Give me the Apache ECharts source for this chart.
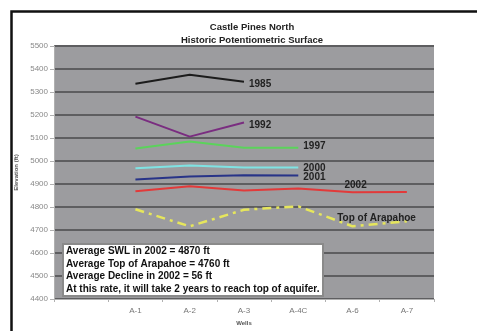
<!DOCTYPE html>
<html>
<head>
<meta charset="utf-8">
<script src="https://cdn.jsdelivr.net/npm/echarts@6/dist/echarts.min.js"></script>
<style>
  html, body { margin: 0; padding: 0; background: #fff; }
  #chart { width: 477px; height: 331px; }
</style>
</head>
<body>
<div id="chart"></div>
<script>
// Well names along the x axis (first slot left blank)
const wells = ['', 'A-1', 'A-2', 'A-3', 'A-4C', 'A-6', 'A-7'];

// Water levels (ft) per survey year
const y1985 = [null, 5336, 5375, 5345, null, null, null];
const y1992 = [null, 5193, 5106, 5167, null, null, null];
const y1997 = [null, 5054, 5085, 5058, 5058, null, null];
const y2000 = [null, 4968, 4980, 4972, 4972, null, null];
const y2001 = [null, 4920, 4933, 4938, 4937, null, null];
const y2002 = [null, 4868, 4890, 4872, 4880, 4864, 4865];
const arapahoeTop = [null, 4790, 4716, 4788, 4803, 4716, 4738];

const yTicks = { min: 4400, max: 5500, step: 100 };

const notes = [
  'Average SWL in 2002 = 4870 ft',
  'Average Top of Arapahoe = 4760 ft',
  'Average Decline in 2002 = 56 ft',
  'At this rate, it will take 2 years to reach top of aquifer.'
];

const labelFont = { fontFamily: 'Liberation Sans, Arial, sans-serif', fontWeight: 'bold', fontSize: 10, color: '#222' };

function yearSeries(name, data, color, dy) {
  return {
    name: name,
    type: 'line',
    data: data,
    symbol: 'none',
    lineStyle: { color: color, width: 2 },
    endLabel: Object.assign({ show: true, formatter: name, distance: 5, offset: [0, dy] }, labelFont),
    z: 3
  };
}

// Text tag placed above one point of a series
function pointTag(values, index, text, offset) {
  return {
    silent: true,
    symbol: 'circle', symbolSize: 1,
    itemStyle: { color: 'rgba(0,0,0,0)' },
    label: Object.assign({ show: true, position: 'top', formatter: text, offset: offset }, labelFont),
    data: [{ coord: [index, values[index]] }]
  };
}

const series = [
  yearSeries('1985', y1985, '#1c1c1c', 3),
  yearSeries('1992', y1992, '#7a2d80', 3),
  yearSeries('1997', y1997, '#5bd35b', -1),
  yearSeries('2000', y2000, '#7fe3e3', 1),
  yearSeries('2001', y2001, '#283488', 2),
  {
    name: '2002', type: 'line', z: 3, symbol: 'none',
    lineStyle: { color: '#e23a3a', width: 2 },
    data: y2002,
    markPoint: pointTag(y2002, 5, '2002', [3, 3])
  },
  {
    name: 'Top of Arapahoe', type: 'line', z: 3, symbol: 'none',
    lineStyle: { color: '#e6e65c', width: 2.5, type: [9, 5, 3, 5] },
    data: arapahoeTop,
    markPoint: pointTag(arapahoeTop, 5, 'Top of Arapahoe', [24, 2])
  }
];

const chart = echarts.init(document.getElementById('chart'), null, { renderer: 'canvas' });

chart.setOption({
  animation: false,
  backgroundColor: '#ffffff',
  title: {
    text: 'Castle Pines North\nHistoric Potentiometric Surface',
    left: 247, top: 16, textAlign: 'center',
    textStyle: { fontFamily: 'Liberation Sans, Arial, sans-serif', fontWeight: 'bold', fontSize: 9.5, lineHeight: 13, color: '#222' }
  },
  grid: { left: 54, top: 46, right: 43, bottom: 31, show: true, backgroundColor: '#9c9c9f', borderWidth: 0 },
  xAxis: {
    type: 'category', data: wells, boundaryGap: true,
    name: 'Wells', nameLocation: 'middle', nameGap: 21,
    nameTextStyle: { fontFamily: 'Liberation Sans, Arial, sans-serif', fontWeight: 'bold', fontSize: 6, color: '#555' },
    axisLine: { show: true, lineStyle: { color: '#b0b0b0', width: 1 } },
    axisTick: { show: true, length: 3, lineStyle: { color: '#b0b0b0' } },
    axisLabel: { fontFamily: 'Liberation Sans, Arial, sans-serif', fontSize: 8, color: '#777', margin: 8 },
    splitLine: { show: false }
  },
  yAxis: {
    type: 'value', min: yTicks.min, max: yTicks.max, interval: yTicks.step,
    name: 'Elevation (ft)', nameLocation: 'middle', nameGap: 33, nameRotate: 90,
    nameTextStyle: { fontFamily: 'Liberation Sans, Arial, sans-serif', fontWeight: 'bold', fontSize: 6, color: '#555' },
    axisLine: { show: true, lineStyle: { color: '#b0b0b0', width: 1 } },
    axisTick: { show: true, length: 4, lineStyle: { color: '#b0b0b0' } },
    axisLabel: { fontFamily: 'Liberation Sans, Arial, sans-serif', fontSize: 8, color: '#888', margin: 6, formatter: v => String(v) },
    splitLine: { show: true, lineStyle: { color: '#5e5e60', width: 2 } }
  },
  series: series,
  graphic: [
    {
      type: 'rect', left: 9, top: 9, z: 10, silent: true,
      shape: { width: 490, height: 340 },
      style: { fill: 'none', stroke: '#111', lineWidth: 2.5 }
    },
    {
      type: 'rect', left: 62, top: 243, z: 20,
      shape: { width: 260, height: 52 },
      style: { fill: '#ffffff', stroke: '#8a8a8a', lineWidth: 2 }
    },
    {
      type: 'text', left: 66, top: 245, z: 21,
      style: {
        text: notes.join('\n'),
        font: 'bold 10px "Liberation Sans", Arial, sans-serif',
        lineHeight: 12.5, fill: '#111'
      }
    }
  ]
});
</script>
</body>
</html>
